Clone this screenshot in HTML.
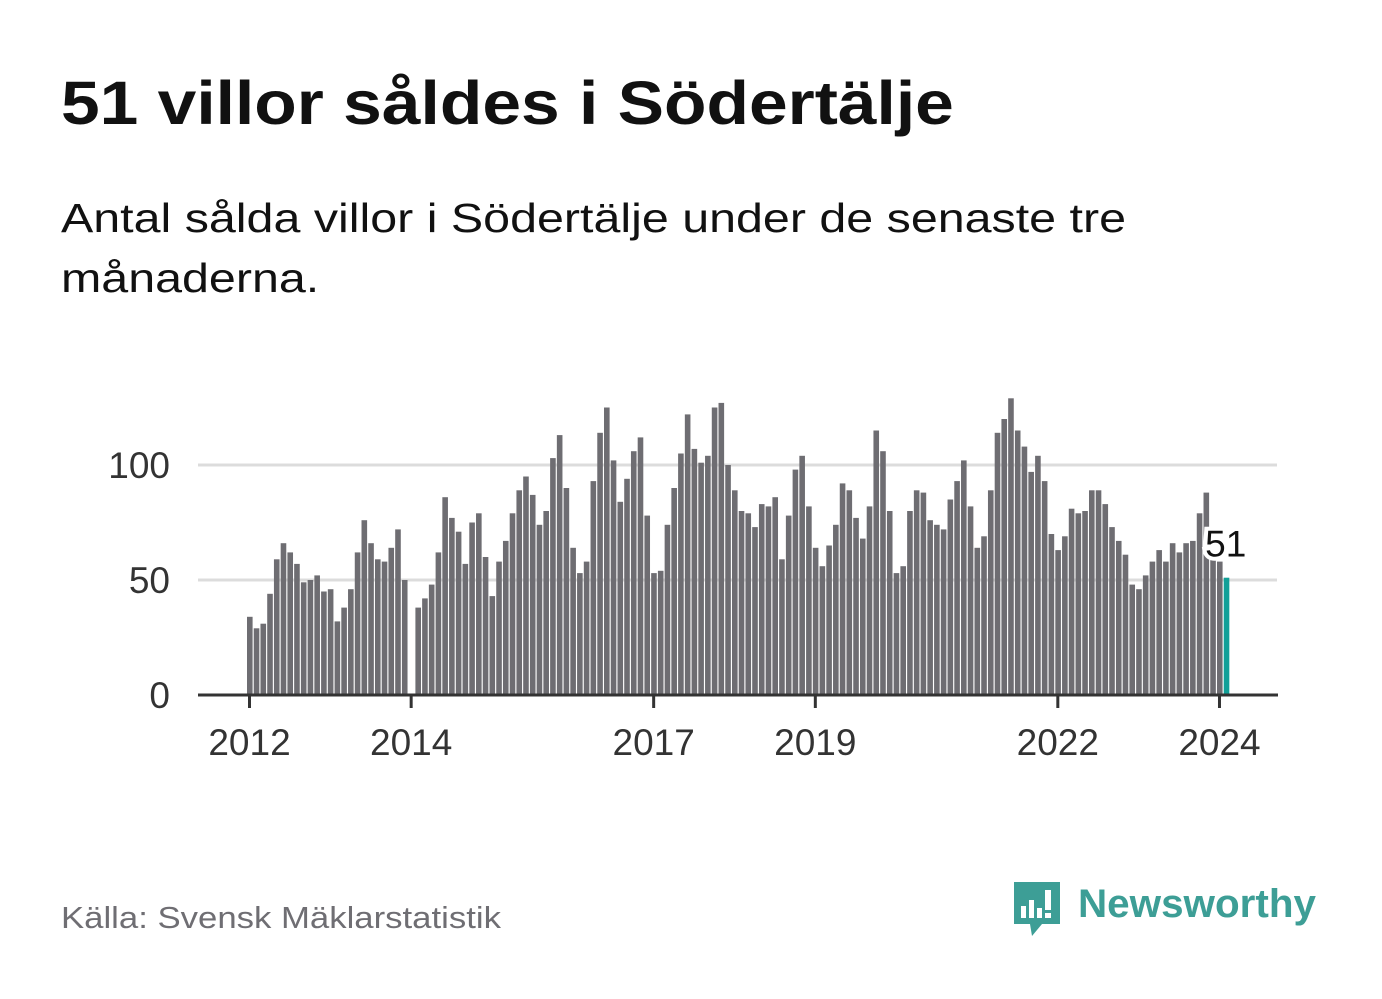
<!DOCTYPE html>
<html><head><meta charset="utf-8">
<style>
body{margin:0;background:#fff;width:1382px;height:999px;overflow:hidden;font-family:"Liberation Sans",sans-serif;}
#title{position:absolute;left:61px;top:68px;font-size:61px;font-weight:bold;color:#111;margin:0;transform-origin:0 0;transform:scaleX(1.14);white-space:nowrap}
#sub{position:absolute;left:61px;top:188px;font-size:41px;color:#111;line-height:60px;width:1200px;transform-origin:0 0;transform:scaleX(1.18);white-space:nowrap}
#src{position:absolute;left:61px;top:900px;font-size:31px;color:#6f6e73;transform-origin:0 0;transform:scaleX(1.12);white-space:nowrap}
</style></head><body>
<h1 id="title">51 villor såldes i Södertälje</h1>
<div id="sub">Antal sålda villor i Södertälje under de senaste tre<br>månaderna.</div>
<svg id="chart" width="1382" height="999" style="position:absolute;left:0;top:0"></svg>
<div id="src">Källa: Svensk Mäklarstatistik</div>
<div style="position:absolute;left:1012px;top:880px;">
<svg width="310" height="60">
<path d="M2 2 H48 V44 H30 L20 56 L18 44 H2 Z" fill="#3d9e96"/>
<rect x="9" y="26" width="5" height="12" fill="#fff"/><rect x="17" y="20" width="5" height="18" fill="#fff"/><rect x="25" y="28" width="5" height="10" fill="#fff"/><rect x="33" y="10" width="6" height="20" fill="#fff"/><rect x="33" y="33" width="6" height="5" fill="#fff"/>
<text x="66" y="37" font-family="Liberation Sans, sans-serif" font-size="40" font-weight="bold" fill="#3d9e96" textLength="238" lengthAdjust="spacingAndGlyphs">Newsworthy</text>
</svg></div>
<script>
const years=[2012,2014,2017,2019,2022,2024];
const yTicks=[0,50,100];
const values=[
34,29,31,44,59,66,62,57,49,50,52,45,
46,32,38,46,62,76,66,59,58,64,72,50,
null,38,42,48,62,86,77,71,57,75,79,60,
43,58,67,79,89,95,87,74,80,103,113,90,
64,53,58,93,114,125,102,84,94,106,112,78,
53,54,74,90,105,122,107,101,104,125,127,100,
89,80,79,73,83,82,86,59,78,98,104,82,
64,56,65,74,92,89,77,68,82,115,106,80,
53,56,80,89,88,76,74,72,85,93,102,82,
64,69,89,114,120,129,115,108,97,104,93,70,
63,69,81,79,80,89,89,83,73,67,61,48,
46,52,58,63,58,66,62,66,67,79,88,60,
58,51];
const svg=document.getElementById('chart');
const NS='http://www.w3.org/2000/svg';
const y=v=>695-v*2.3;
const pitch=6.736;
const x=i=>247+pitch*i;
function mk(t,a){const e=document.createElementNS(NS,t);for(const k in a)e.setAttribute(k,a[k]);svg.appendChild(e);return e;}
yTicks.forEach(t=>{
 if(t>0){const g=mk('line',{x1:198,x2:1277,y1:y(t),y2:y(t),stroke:'#dcdcdc','stroke-width':3});
 
 }
 const l=mk('text',{x:170,y:y(t)+13,'text-anchor':'end','font-size':37,fill:'#333','font-family':'Liberation Sans, sans-serif'});
 l.textContent=t;
 
 
});
values.forEach((v,i)=>{
 if(v==null)return;
 const last=i===values.length-1;
 const r=mk('rect',{x:x(i),y:y(v),width:5.6,height:v*2.3,fill:last?'#12a098':'#6e6d72'});
 
 
});
const ax=mk('line',{x1:198,x2:1278,y1:695,y2:695,stroke:'#333','stroke-width':3});


years.forEach(yr=>{
 const tx=x((yr-2012)*12)+2.5;
 const tk=mk('line',{x1:tx,x2:tx,y1:695,y2:708,stroke:'#333','stroke-width':3});
 
 
 const l=mk('text',{x:tx,y:755,'text-anchor':'middle','font-size':37,fill:'#333','font-family':'Liberation Sans, sans-serif'});
 l.textContent=yr;
 
 
});
const li=values.length-1;
const lbl=mk('text',{x:x(li)+2,y:y(values[li])-21,'text-anchor':'middle','font-size':37,fill:'#111',stroke:'#fff','stroke-width':8,'paint-order':'stroke','font-family':'Liberation Sans, sans-serif'});
lbl.textContent=values[li];


</script>
</body></html>
